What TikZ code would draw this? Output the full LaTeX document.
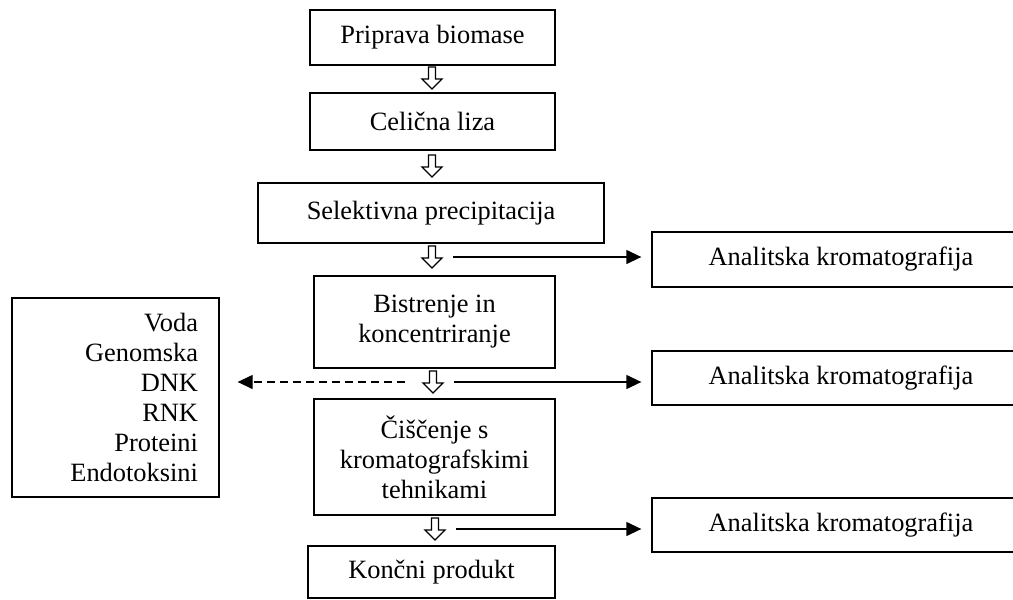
\documentclass[tikz,border=0pt]{standalone}
\usepackage{fontspec}
\setmainfont{Liberation Serif}
\usetikzlibrary{arrows.meta}
\begin{document}
\begin{tikzpicture}[x=1pt,y=-1pt,
  font=\fontsize{26.4}{30}\selectfont,
  box/.style={draw, line width=1.3pt, inner sep=0pt, align=center},
  flow/.style={line width=1.3pt, -{Triangle[length=15pt,width=14pt]}},
  dashflow/.style={flow, dash pattern=on 8pt off 5pt},
  hollowarrow/.pic={\draw[line width=1.3pt, line join=miter]
      (-3.5,-11) -- (3.5,-11) -- (3.5,1) -- (10,1) -- (0,11) -- (-10,1) -- (-3.5,1) -- cycle;}
]
\useasboundingbox (0,0) rectangle (1013,600);

% main column
\node[box, minimum width=245pt, minimum height=55pt] (b1) at (432.5,37.5) {Priprava biomase};
\node[box, minimum width=245pt, minimum height=57pt] (b2) at (432.5,121.5) {Celična liza};
\node[box, minimum width=346pt, minimum height=60pt] (b3) at (431,213) {Selektivna precipitacija};
\node[box, minimum width=241pt, minimum height=92pt] (b4) at (434.5,322) {Bistrenje in\\koncentriranje};
\node[box, minimum width=241pt, minimum height=116pt] (b5) at (434.5,457) {Čiščenje s\\kromatografskimi\\tehnikami};
\node[box, minimum width=247pt, minimum height=52pt] (b6) at (431.5,572) {Končni produkt};

% side boxes
\node[box, minimum width=207pt, minimum height=199pt, text width=165pt, align=right] (L) at (115.5,397.5)
  {Voda\\Genomska\\DNK\\RNK\\Proteini\\Endotoksini};
\node[box, minimum width=378pt, minimum height=55pt] (a1) at (841,259.5) {Analitska kromatografija};
\node[box, minimum width=378pt, minimum height=54pt] (a2) at (841,378) {Analitska kromatografija};
\node[box, minimum width=378pt, minimum height=54pt] (a3) at (841,525) {Analitska kromatografija};

% hollow step arrows
\coordinate (g1) at (432,78);
\coordinate (g2) at (432,166);
\coordinate (g3) at (432,257);
\coordinate (g4) at (433,382);
\coordinate (g5) at (435,529);
\foreach \g in {g1,g2,g3,g4,g5} { \pic at (\g) {hollowarrow}; }

% connectors
\draw[flow, shorten <=21pt, shorten >=10pt] (g3) -- (g3 -| a1.west);
\draw[flow, shorten <=21pt, shorten >=10pt] (g4) -- (g4 -| a2.west);
\draw[flow, shorten <=21pt, shorten >=10pt] (g5) -- (g5 -| a3.west);
\draw[dashflow, shorten <=28pt, shorten >=18pt] (g4) -- (g4 -| L.east);
\end{tikzpicture}
\end{document}
